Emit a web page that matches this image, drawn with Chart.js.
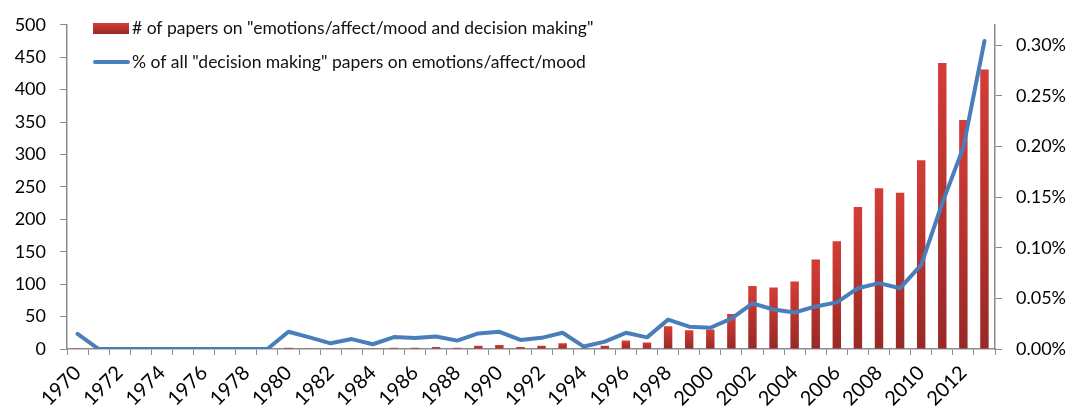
<!DOCTYPE html>
<html>
<head>
<meta charset="utf-8">
<script src="https://cdn.jsdelivr.net/npm/chart.js@4.4.1/dist/chart.umd.min.js"></script>
<style>
  html, body { margin: 0; padding: 0; background: #fff; }
  #wrap { width: 1076px; height: 410px; position: relative; }
</style>
</head>
<body>
<div id="wrap"><canvas id="chart"></canvas></div>
<script>
const years = [];
for (let y = 1970; y <= 2013; y++) years.push(String(y));

// number of papers per year (left axis)
const paperCounts = [
  1, 0, 0, 0, 0, 0, 0, 0, 0, 0,
  2, 1, 1, 1, 1, 2, 2, 3, 2, 5,
  6, 3, 5, 9, 1, 5, 13, 10, 35, 29,
  30, 54, 97, 95, 104, 138, 166, 219, 248, 241,
  291, 441, 353, 431
];

// share of all decision making papers, in percent (right axis)
const sharePercent = [
  0.015, 0, 0, 0, 0, 0, 0, 0, 0, 0,
  0.017, 0.0115, 0.0056, 0.0098, 0.0047, 0.0118, 0.0108, 0.0124, 0.0083, 0.0154,
  0.017, 0.0089, 0.011, 0.016, 0.0024, 0.0073, 0.016, 0.0115, 0.029, 0.022,
  0.021, 0.030, 0.045, 0.039, 0.036, 0.042, 0.046, 0.060, 0.065, 0.060,
  0.083, 0.144, 0.199, 0.304
];

const leftTicks = [0, 50, 100, 150, 200, 250, 300, 350, 400, 450, 500];
const rightTicks = [0, 0.05, 0.10, 0.15, 0.20, 0.25, 0.30];

const barLabel = '# of papers on "emotions/affect/mood and decision making"';
const lineLabel = '% of all "decision making" papers on emotions/affect/mood';

const FONT = 'Lato';
const axisGray = '#8c8c8c';
const lineBlue = '#4a7ebb';

function redGradient(c, top, bottom) {
  const g = c.createLinearGradient(0, top, 0, bottom);
  g.addColorStop(0, '#d43d37');
  g.addColorStop(1, '#982926');
  return g;
}

function barFill(ctx) {
  const chart = ctx.chart;
  const ys = chart.scales.y;
  if (ctx.type !== 'data' || !ys || !chart.chartArea) return '#c0332f';
  const top = ys.getPixelForValue(ctx.raw);
  const base = ys.getPixelForValue(0);
  if (!isFinite(top) || base - top < 1) return '#c0332f';
  return redGradient(chart.ctx, top, base);
}

// legend drawn inside the plot, top-left, like the original
const innerLegend = {
  id: 'innerLegend',
  afterDraw(chart) {
    const c = chart.ctx;
    c.save();
    c.font = '17.5px ' + FONT;
    c.textBaseline = 'middle';
    c.textAlign = 'left';
    // bar item
    c.fillStyle = redGradient(c, 23, 34);
    c.fillRect(93, 23, 36, 11);
    c.fillStyle = '#111';
    c.fillText(barLabel, 132, 28);
    // line item
    c.strokeStyle = lineBlue;
    c.lineWidth = 4;
    c.lineCap = 'round';
    c.beginPath();
    c.moveTo(95, 62);
    c.lineTo(128, 62);
    c.stroke();
    c.fillText(lineLabel, 132, 62);
    c.restore();
  }
};

new Chart(document.getElementById('chart'), {
  data: {
    labels: years,
    datasets: [
      {
        type: 'line',
        label: lineLabel,
        data: sharePercent,
        yAxisID: 'y1',
        borderColor: lineBlue,
        borderWidth: 4,
        pointRadius: 0,
        tension: 0,
        borderJoinStyle: 'round',
        borderCapStyle: 'round',
        order: 0
      },
      {
        type: 'bar',
        label: barLabel,
        data: paperCounts,
        yAxisID: 'y',
        backgroundColor: barFill,
        barPercentage: 0.4,
        categoryPercentage: 1.0,
        order: 1
      }
    ]
  },
  options: {
    responsive: true,
    maintainAspectRatio: false,
    animation: false,
    layout: { padding: { top: 24, left: 0, right: 0, bottom: 0 } },
    plugins: {
      legend: { display: false },
      tooltip: { enabled: false }
    },
    scales: {
      x: {
        type: 'category',
        offset: true,
        grid: { offset: true, drawOnChartArea: false, tickLength: 6, color: axisGray },
        border: { color: axisGray, width: 1.5 },
        ticks: {
          autoSkip: false,
          maxRotation: 45,
          minRotation: 45,
          padding: 6,
          color: '#000',
          font: { family: FONT, size: 20 },
          callback: (v, i) => (i % 2 === 0 ? years[i] : '')
        },
        afterFit: (s) => { s.height = 61; }
      },
      y: {
        position: 'left',
        min: 0,
        max: 500,
        afterBuildTicks: (s) => { s.ticks = leftTicks.map(v => ({ value: v })); },
        grid: { drawOnChartArea: false, tickLength: 7, color: axisGray },
        border: { color: axisGray, width: 1.5 },
        ticks: { padding: 14, color: '#000', font: { family: FONT, size: 18 } },
        afterFit: (s) => { s.width = 67; }
      },
      y1: {
        position: 'right',
        min: 0,
        max: 0.32,
        afterBuildTicks: (s) => { s.ticks = rightTicks.map(v => ({ value: v })); },
        grid: { drawOnChartArea: false, tickLength: 7, color: axisGray },
        border: { color: axisGray, width: 1.5 },
        ticks: {
          padding: 14,
          color: '#000',
          font: { family: FONT, size: 18 },
          callback: (v) => v.toFixed(2) + '%'
        },
        afterFit: (s) => { s.width = 81; }
      }
    }
  },
  plugins: [innerLegend]
});
</script>
</body>
</html>
